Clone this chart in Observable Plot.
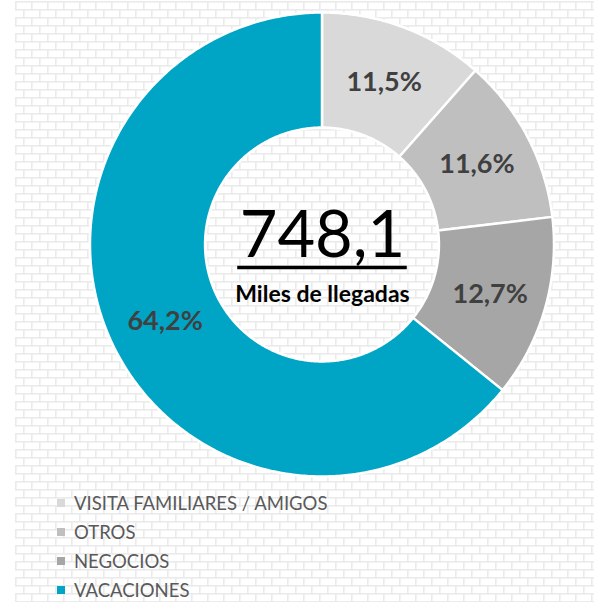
<!DOCTYPE html>
<html>
<head>
<meta charset="utf-8">
<script src="https://cdn.jsdelivr.net/npm/d3@7"></script>
<script src="https://cdn.jsdelivr.net/npm/@observablehq/plot@0.6"></script>
<style>
  html, body { margin: 0; padding: 0; background: #ffffff; }
  #page { position: relative; width: 594px; height: 602px; overflow: hidden; font-family: Lato, "Open Sans", sans-serif; }
  #bricks {
    position: absolute; left: 15px; top: 1px; right: 0; bottom: 0;
    background-image: url("data:image/svg+xml,%3Csvg xmlns='http://www.w3.org/2000/svg' width='16' height='16'%3E%3Crect width='16' height='16' fill='white'/%3E%3Cg fill='%23ebebeb'%3E%3Crect y='0' width='16' height='1.6'/%3E%3Crect y='8' width='16' height='1.6'/%3E%3Crect x='0' y='0' width='1.6' height='8'/%3E%3Crect x='8' y='8' width='1.6' height='8'/%3E%3C/g%3E%3C/svg%3E");
    background-size: 16px 16px;
  }
  #chart { position: absolute; left: 0; top: 0; }
  #legend { position: absolute; left: 57px; top: 488px; }
  .item { display: flex; align-items: center; height: 29px; font-size: 18.5px; color: #595959; font-family: Lato, "Open Sans", sans-serif; }
  .sw { width: 8px; height: 8px; margin-right: 9px; flex: none; }
</style>
</head>
<body>
<div id="page">
  <div id="bricks"></div>
  <div id="chart"></div>
  <div id="legend"></div>
</div>
<script>
// ---- Data ----
const categories = ["VISITA FAMILIARES / AMIGOS", "OTROS", "NEGOCIOS", "VACACIONES"];
const shares = [11.5, 11.6, 12.7, 64.2];
const colors = ["#d9d9d9", "#bfbfbf", "#a6a6a6", "#00a5c6"];
const totalValue = "748,1";
const totalLabel = "Miles de llegadas";

// ---- Build arcs from the pie layout ----
const innerR = 0.504, outerR = 1, labelR = 0.752;
const pie = d3.pie().sort(null).value(d => d.share);
const rows = categories.map((c, i) => ({category: c, share: shares[i]}));
const arcs = pie(rows);

const arcPts = [];
arcs.forEach(a => {
  const steps = Math.max(8, Math.ceil((a.endAngle - a.startAngle) / 0.01));
  for (let k = 0; k <= steps; k++) {
    const t = a.startAngle + (a.endAngle - a.startAngle) * k / steps;
    arcPts.push({
      category: a.data.category,
      xi: innerR * Math.sin(t), yi: innerR * Math.cos(t),
      xo: outerR * Math.sin(t), yo: outerR * Math.cos(t)
    });
  }
});
const labels = arcs.map(a => {
  const m = (a.startAngle + a.endAngle) / 2;
  return {category: a.data.category, x: labelR * Math.sin(m), y: labelR * Math.cos(m),
          text: a.data.share.toFixed(1).replace(".", ",") + "%"};
});

const W = 594, H = 482;
const mL = 90, mR = 40;
const pxPerUnit = (W - mL - mR) / 2;

// underline width measured from the rendered font of the total
const ctx = document.createElement("canvas").getContext("2d");
ctx.font = "65px Lato";
const halfW = (ctx.measureText(totalValue).width / 2 + 2) / pxPerUnit;
const underline = [{y: 0, x1: -halfW, x2: halfW}];

const chart = Plot.plot({
  width: W, height: H,
  marginLeft: mL, marginRight: mR, marginTop: 12.5, marginBottom: 5.5,
  style: {background: "transparent", fontFamily: "Lato, 'Open Sans', sans-serif"},
  x: {domain: [-1, 1], axis: null},
  y: {domain: [-1, 1], axis: null},
  color: {domain: categories, range: colors},
  marks: [
    Plot.area(arcPts, {x1: "xi", y1: "yi", x2: "xo", y2: "yo", z: "category",
      fill: "category", stroke: "white", strokeWidth: 2.5, curve: "linear"}),
    Plot.text(labels, {x: "x", y: "y", text: "text", fill: "#404040",
      fontSize: 27, fontWeight: "bold", dy: 1}),
    Plot.text([totalValue], {x: () => 0, y: () => 0, text: d => d, fontSize: 65,
      fill: "#000", dy: -9}),
    Plot.ruleY(underline, {y: "y", x1: "x1", x2: "x2", stroke: "#000", strokeWidth: 3.5, dy: 22.5}),
    Plot.text([totalLabel], {x: () => 0, y: () => 0, text: d => d, fontSize: 23,
      fontWeight: "bold", fill: "#000", dy: 50})
  ]
});
document.getElementById("chart").appendChild(chart);

// ---- Legend ----
const legend = document.getElementById("legend");
categories.forEach((c, i) => {
  const it = document.createElement("div");
  it.className = "item";
  const sw = document.createElement("span");
  sw.className = "sw"; sw.style.background = colors[i];
  const tx = document.createElement("span");
  tx.textContent = c;
  it.appendChild(sw); it.appendChild(tx);
  legend.appendChild(it);
});
</script>
</body>
</html>
